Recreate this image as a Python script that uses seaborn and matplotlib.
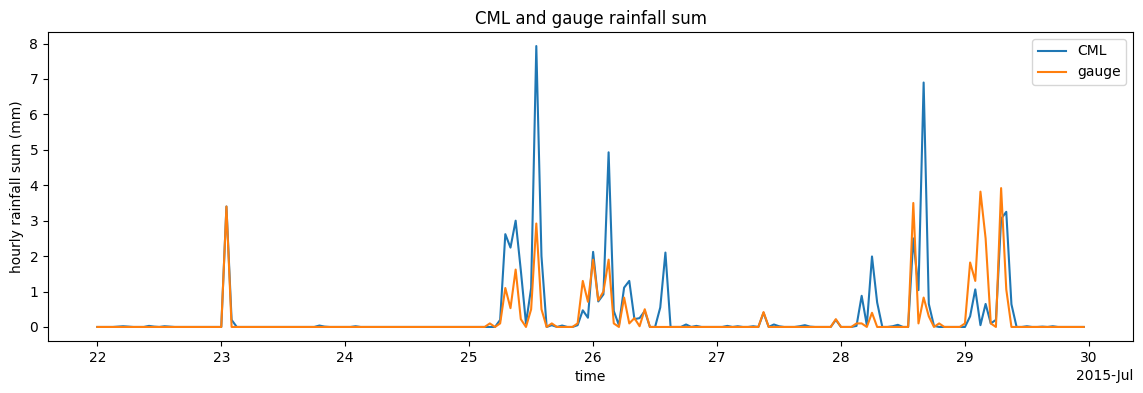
import numpy as np
import pandas as pd
import matplotlib
matplotlib.use("Agg")
import matplotlib.pyplot as plt
import matplotlib.dates as mdates
import seaborn as sns

start = "2015-07-22 00:00"
n_hours = 192

# hourly rainfall sums (mm), one row per day (22 .. 29 July 2015)
cml = [
    0, 0, 0, 0, 0.01, 0.02, 0.01, 0, 0, 0, 0.03, 0.01, 0, 0.02, 0.01, 0, 0, 0, 0, 0, 0, 0, 0, 0,
    0, 3.4, 0.2, 0, 0, 0, 0, 0, 0, 0, 0, 0, 0, 0, 0, 0, 0, 0, 0, 0.04, 0.01, 0, 0, 0,
    0, 0, 0.02, 0, 0, 0, 0, 0, 0, 0, 0, 0, 0, 0, 0, 0, 0, 0, 0, 0, 0, 0, 0, 0,
    0, 0, 0, 0, 0, 0, 0.2, 2.62, 2.24, 3.0, 1.6, 0.1, 1.1, 7.93, 2.0, 0, 0.05, 0, 0.04, 0, 0, 0.05, 0.47, 0.26,
    2.12, 0.72, 0.92, 4.93, 0.45, 0.05, 1.11, 1.3, 0.22, 0.25, 0.45, 0, 0, 0.55, 2.1, 0, 0, 0, 0.07, 0, 0.03, 0, 0, 0,
    0, 0, 0.03, 0, 0.02, 0, 0, 0.02, 0, 0.4, 0, 0.07, 0.02, 0, 0, 0, 0.02, 0.05, 0.01, 0, 0, 0, 0, 0.2,
    0, 0, 0, 0.03, 0.88, 0.05, 1.99, 0.69, 0, 0, 0.02, 0.06, 0, 0, 2.5, 1.04, 6.9, 0.65, 0.03, 0, 0, 0, 0, 0,
    0, 0.3, 1.06, 0.05, 0.65, 0.1, 0.2, 3.05, 3.25, 0.64, 0, 0, 0.02, 0, 0, 0.01, 0, 0.02, 0, 0, 0, 0, 0, 0,
]
gauge = [
    0, 0, 0, 0, 0, 0, 0, 0, 0, 0, 0, 0, 0, 0, 0, 0, 0, 0, 0, 0, 0, 0, 0, 0,
    0, 3.4, 0, 0, 0, 0, 0, 0, 0, 0, 0, 0, 0, 0, 0, 0, 0, 0, 0, 0, 0, 0, 0, 0,
    0, 0, 0, 0, 0, 0, 0, 0, 0, 0, 0, 0, 0, 0, 0, 0, 0, 0, 0, 0, 0, 0, 0, 0,
    0, 0, 0, 0, 0.1, 0, 0.1, 1.1, 0.53, 1.62, 0.22, 0, 0.5, 2.92, 0.5, 0, 0.1, 0, 0, 0, 0, 0.1, 1.3, 0.71,
    1.9, 0.75, 1.0, 1.9, 0.1, 0, 0.83, 0.1, 0.25, 0.02, 0.5, 0, 0, 0, 0, 0, 0, 0, 0, 0, 0, 0, 0, 0,
    0, 0, 0, 0, 0, 0, 0, 0, 0, 0.42, 0, 0, 0, 0, 0, 0, 0, 0, 0, 0, 0, 0, 0, 0.22,
    0, 0, 0, 0.1, 0.1, 0, 0.4, 0, 0, 0, 0, 0, 0, 0, 3.5, 0.1, 0.83, 0.3, 0, 0.1, 0, 0, 0, 0,
    0.1, 1.82, 1.3, 3.82, 2.5, 0.1, 0, 3.92, 1.06, 0, 0, 0, 0, 0, 0, 0, 0, 0, 0, 0, 0, 0, 0, 0,
]

time = pd.date_range(start, periods=n_hours, freq="h")
df = pd.DataFrame({"time": time, "CML": cml, "gauge": gauge})

fig, ax = plt.subplots(figsize=(11.43, 3.93), dpi=100)
fig.subplots_adjust(left=0.042, right=0.9913, top=0.9186, bottom=0.1323)

sns.lineplot(data=df, x="time", y="CML", ax=ax, color="#1f77b4", label="CML", linewidth=1.5)
sns.lineplot(data=df, x="time", y="gauge", ax=ax, color="#ff7f0e", label="gauge", linewidth=1.5)

locator = mdates.DayLocator()
ax.xaxis.set_major_locator(locator)
ax.xaxis.set_major_formatter(mdates.ConciseDateFormatter(locator))

ax.set_title("CML and gauge rainfall sum")
ax.set_xlabel("time")
ax.set_ylabel("hourly rainfall sum (mm)")
ax.legend(loc="upper right")

fig.savefig("out.png", dpi=100)
